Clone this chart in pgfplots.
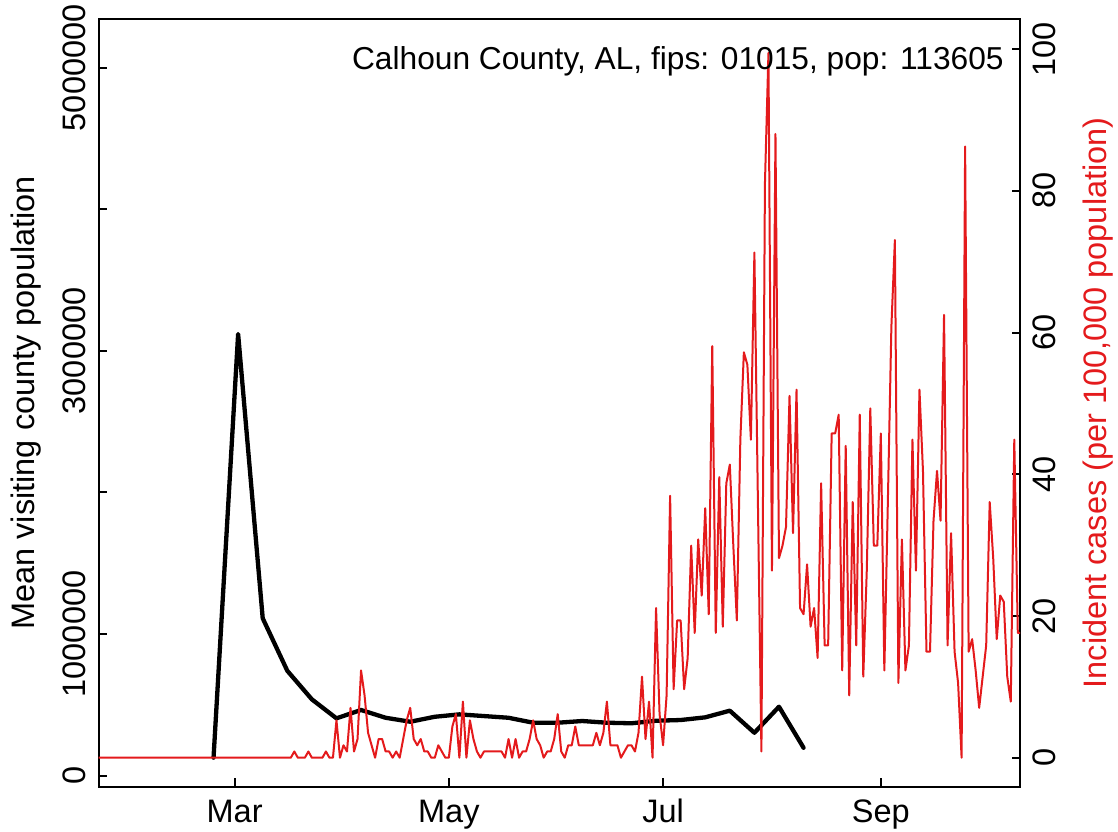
\documentclass[border=0pt]{standalone}
\usepackage{pgfplots}
\pgfplotsset{compat=1.18}
\usepackage{pgfplotstable}
\usepackage{fontspec}
\setmainfont{Liberation Sans}
\definecolor{cred}{RGB}{228,26,28}
\newcommand\fs{\fontsize{16.25}{19.5}\selectfont}

\pgfplotstableread{
d v
54 126000
61 3119000
68 1111000
75 740000
82 538000
89 404000
96 463000
103 408000
110 380000
117 415000
124 432000
131 420000
138 408000
145 373000
152 373000
159 385000
166 373000
173 369000
180 387000
187 392000
194 411000
201 458000
208 302000
215 486000
222 196000
}\visits

\pgfplotstableread{
d v
21 0
22 0
23 0
24 0
25 0
26 0
27 0
28 0
29 0
30 0
31 0
32 0
33 0
34 0
35 0
36 0
37 0
38 0
39 0
40 0
41 0
42 0
43 0
44 0
45 0
46 0
47 0
48 0
49 0
50 0
51 0
52 0
53 0
54 0
55 0
56 0
57 0
58 0
59 0
60 0
61 0
62 0
63 0
64 0
65 0
66 0
67 0
68 0
69 0
70 0
71 0
72 0
73 0
74 0
75 0
76 0
77 0.88
78 0
79 0
80 0
81 0.88
82 0
83 0
84 0
85 0
86 0.88
87 0
88 0
89 5.28
90 0
91 1.76
92 0.88
93 7.04
94 0.88
95 2.64
96 12.32
97 8.80
98 3.52
99 1.76
100 0
101 2.64
102 2.64
103 0.88
104 0.88
105 0
106 0.88
107 0
108 2.64
109 5.28
110 7.04
111 2.64
112 1.76
113 2.64
114 0.88
115 0.88
116 0
117 0
118 1.76
119 0.88
120 0
121 0
122 4.40
123 6.16
124 0
125 7.92
126 0
127 5.28
128 2.64
129 0.88
130 0
131 0.88
132 0.88
133 0.88
134 0.88
135 0.88
136 0.88
137 0
138 2.64
139 0
140 2.64
141 0
142 0.88
143 0.88
144 2.64
145 5.28
146 2.64
147 1.76
148 0
149 0.88
150 0.88
151 2.64
152 6.16
153 0.88
154 0
155 1.76
156 1.76
157 4.40
158 1.76
159 1.76
160 1.76
161 1.76
162 1.76
163 3.52
164 1.76
165 3.52
166 7.92
167 1.76
168 1.76
169 1.76
170 0
171 0.88
172 1.76
173 1.76
174 0.88
175 3.52
176 11.44
177 2.64
178 7.92
179 0
180 21.13
181 6.16
182 1.76
183 8.80
184 36.97
185 9.68
186 19.37
187 19.37
188 9.68
189 14.08
190 29.93
191 17.61
192 30.81
193 22.89
194 35.21
195 20.25
196 58.10
197 17.61
198 39.61
199 18.49
200 38.73
201 41.37
202 29.93
203 19.37
204 44.89
205 57.22
206 55.46
207 44.89
208 71.30
209 36.09
210 0.88
211 80.99
212 99.47
213 26.41
214 88.03
215 28.17
216 29.93
217 32.57
218 51.06
219 31.69
220 51.94
221 21.13
222 20.25
223 27.29
224 18.49
225 21.13
226 14.08
227 38.73
228 15.85
229 15.85
230 45.77
231 45.77
232 48.41
233 12.32
234 44.01
235 8.80
236 36.09
237 15.85
238 48.41
239 11.44
240 26.41
241 49.30
242 29.93
243 29.93
244 45.77
245 12.32
246 36.09
247 60.74
248 73.06
249 10.56
250 30.81
251 12.32
252 15.85
253 44.89
254 26.41
255 51.94
256 40.49
257 14.96
258 14.96
259 33.45
260 40.49
261 33.45
262 62.50
263 15.85
264 31.69
265 14.96
266 10.56
267 0
268 86.27
269 14.96
270 16.73
271 12.32
272 7.04
273 11.44
274 15.85
275 36.09
276 28.17
277 16.73
278 22.89
279 22.01
280 11.44
281 7.92
282 44.89
283 17.61
284 17.61
}\cases

\begin{document}
\begin{tikzpicture}[font=\fs]
\path[use as bounding box] (0,0) rectangle (559pt,415.5pt);
\begin{axis}[
  at={(49.35pt,22.15pt)}, anchor=south west,
  width=460.65pt, height=383.85pt, scale only axis,
  xmin=21.3, xmax=283.63,
  ymin=-79100, ymax=5345000,
  xtick={60,121,182,244}, xticklabels={Mar,May,Jul,Sep},
  ytick={0,1000000,2000000,3000000,4000000,5000000},
  yticklabels={0,1000000,,3000000,,5000000},
  scaled y ticks=false,
  xtick pos=bottom, ytick pos=left,
  tick align=inside, major tick length=4.25pt,
  axis line style={line width=1pt},
  every tick/.style={black, line width=1pt},
  tick label style={font=\fs},
  label style={font=\fs},
  xticklabel style={anchor=base, yshift=-17.7pt},
  yticklabel style={xshift=-6.45pt, rotate=90, anchor=base},
  ylabel={Mean visiting county population},
  every axis y label/.style={at={(rel axis cs:0,0.5)}, xshift=-31.85pt, rotate=90, anchor=base},
]
\addplot[black, line width=2.15pt, line join=round, line cap=round] table[x=d,y=v]{\visits};
\end{axis}
\begin{axis}[
  at={(49.35pt,22.15pt)}, anchor=south west,
  width=460.65pt, height=383.85pt, scale only axis,
  xmin=21.3, xmax=283.63,
  ymin=-4.09, ymax=104.26,
  axis x line=none, axis y line*=right,
  ytick={0,20,40,60,80,100}, yticklabels={0,20,40,60,80,100},
  tick align=inside, major tick length=4.25pt,
  axis line style={line width=1pt},
  every tick/.style={black, line width=1pt},
  tick label style={font=\fs},
  label style={font=\fs},
  yticklabel style={xshift=17.9pt, rotate=90, anchor=base},
  ylabel={Incident cases (per 100,000 population)},
  every axis y label/.style={at={(rel axis cs:1,0.5)}, xshift=43pt, rotate=90, anchor=base, text=cred},
]
\addplot[cred, line width=1pt, line join=round, line cap=round] table[x=d,y=v]{\cases};
\end{axis}
\node[anchor=base east, inner sep=0pt, font=\fontsize{15.85}{19}\selectfont] at (502pt,380.5pt) {Calhoun County, AL, fips: 01015, pop: 113605};
\end{tikzpicture}
\end{document}
